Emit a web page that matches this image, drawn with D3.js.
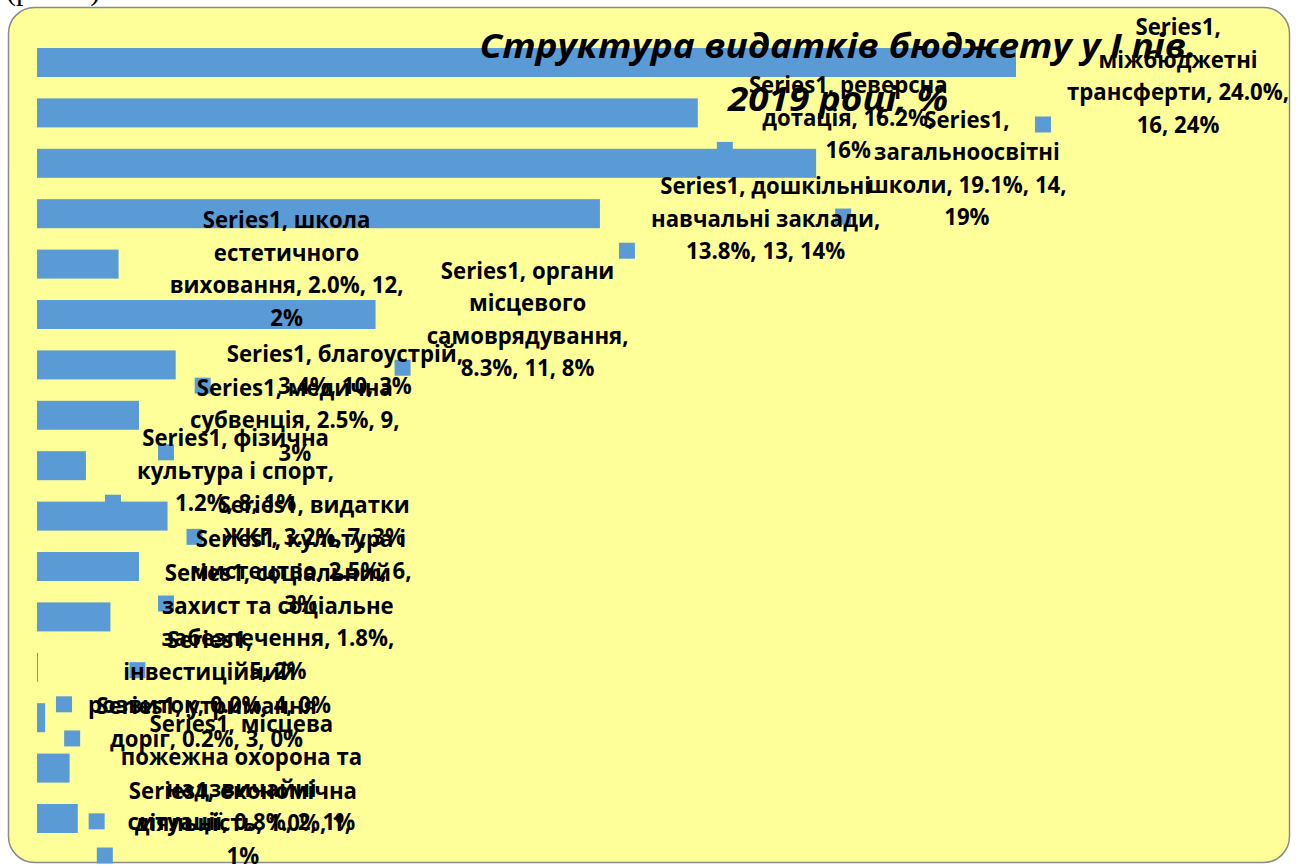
<!DOCTYPE html>
<html>
<head>
<meta charset="utf-8">
<script src="https://cdn.jsdelivr.net/npm/d3@7"></script>
<style>
  body { margin: 0; background: #fff; }
  svg { display: block; }
</style>
</head>
<body>
<script>
// categories as they appear, top to bottom
var categories = [
  "міжбюджетні трансферти", "реверсна дотація", "загальноосвітні школи",
  "дошкільні навчальні заклади", "школа естетичного виховання",
  "органи місцевого самоврядування", "благоустрій", "медична субвенція",
  "фізична культура і спорт", "видатки ЖКГ", "культура і мистецтво",
  "соціальний захист та соціальне забезпечення", "інвестиційний розвиток",
  "утримання доріг", "місцева пожежна охорона та надзвичайні ситуації",
  "економічна діяльність"
];
var values = [24.0, 16.2, 19.1, 13.8, 2.0, 8.3, 3.4, 2.5, 1.2, 3.2, 2.5, 1.8, 0.0, 0.2, 0.8, 1.0];

// data label lines (Series name, category, value, index, percent) as wrapped in the picture
var labelLines = [
  ["Series1,", "міжбюджетні", "трансферти, 24.0%,", "16, 24%"],
  ["Series1, реверсна", "дотація, 16.2%,", "16%"],
  ["Series1,", "загальноосвітні", "школи, 19.1%, 14,", "19%"],
  ["Series1, дошкільні", "навчальні заклади,", "13.8%, 13, 14%"],
  ["Series1, школа", "естетичного", "виховання, 2.0%, 12,", "2%"],
  ["Series1, органи", "місцевого", "самоврядування,", "8.3%, 11, 8%"],
  ["Series1, благоустрій,", "3.4%, 10, 3%"],
  ["Series1, медична", "субвенція, 2.5%, 9,", "3%"],
  ["Series1, фізична", "культура і спорт,", "1.2%, 8, 1%"],
  ["Series1, видатки", "ЖКГ, 3.2%, 7, 3%"],
  ["Series1, культура і", "мистецтво, 2.5%, 6,", "3%"],
  ["Series1, соціальний", "захист та соціальне", "забезпечення, 1.8%,", "5, 2%"],
  ["Series1,", "інвестиційний", "розвиток, 0.0%, 4, 0%"],
  ["Series1, утримання", "доріг, 0.2%, 3, 0%"],
  ["Series1, місцева", "пожежна охорона та", "надзвичайні", "ситуації, 0.8%, 2, 1%"],
  ["Series1, економічна", "діяльність, 1.0%, 1,", "1%"]
];

var titleLines = ["Структура видатків бюджету у І пів.", "2019 році, %"];

var width = 1296, height = 865;
var barCol = "#5B9BD5", bgCol = "#FFFF99";

var svg = d3.select("body").append("svg")
  .attr("width", width)
  .attr("height", height);

// caption text cut off above the chart
svg.append("text")
  .attr("x", 6).attr("y", 0)
  .style("font-family", "'Liberation Serif', serif")
  .style("font-size", "30px")
  .text("(рис. 3).");

// chart area
svg.append("rect")
  .attr("x", 8.5).attr("y", 7.5)
  .attr("width", 1281).attr("height", 855)
  .attr("rx", 26).attr("ry", 26)
  .attr("fill", bgCol)
  .attr("stroke", "#8a8a8a")
  .attr("stroke-width", 1.5);

var x = d3.scaleLinear().domain([0, 24]).range([37, 1016]);
var y = d3.scaleBand().domain(categories)
  .range([26.6, 854.4])
  .paddingInner(0.4246).paddingOuter(0.4246);

var data = categories.map(function(c, i) {
  return { cat: c, v: values[i], lines: labelLines[i] };
});

// text measuring helper
var measure = svg.append("text")
  .style("font-family", "'Open Sans', sans-serif")
  .style("font-weight", 700);
function textW(s, size, italic) {
  measure.style("font-size", size + "px").style("font-style", italic ? "italic" : "normal").text(s);
  return measure.node().getComputedTextLength();
}

var fontSize = 23.5, lineH = 32.5;
// squeeze glyphs horizontally so they take the width of the original narrow font
var kx = 234 / textW("виховання, 2.0%, 12,", fontSize);

data.forEach(function(d) {
  var n = d.lines.length;
  var widths = d.lines.map(function(s) { return textW(s, fontSize) * kx; });
  d.boxW = d3.max(widths);
  d.left = x(d.v) + 51;
  var cy = y(d.cat) + y.bandwidth() / 2 + 4.5;
  var first = Math.max(27, cy - (n - 1) / 2 * lineH);
  d.lineY = d.lines.map(function(s, j) { return first + j * lineH; });
});

var tSize = 34;
var tk = 717 / textW(titleLines[0], tSize, true);
measure.remove();

// legend keys of the labels (sit under the bars)
svg.append("g").selectAll("rect")
  .data(data)
  .join("rect")
  .attr("x", function(d) { return x(d.v) + 19; })
  .attr("y", function(d) { return d.lineY[d.lineY.length - 1] - 8; })
  .attr("width", 16).attr("height", 16)
  .attr("fill", barCol);

// bars
svg.append("g").selectAll("rect")
  .data(data)
  .join("rect")
  .attr("x", x(0))
  .attr("y", function(d) { return y(d.cat); })
  .attr("width", function(d) { return Math.max(1, x(d.v) - x(0)); })
  .attr("height", y.bandwidth())
  .attr("fill", barCol);

// title
svg.append("g").selectAll("text")
  .data(titleLines)
  .join("text")
  .attr("transform", function(d, i) { return "translate(838," + (58 + i * 53) + ") scale(" + tk + ",1)"; })
  .attr("text-anchor", "middle")
  .style("font-family", "'Open Sans', sans-serif")
  .style("font-weight", 700)
  .style("font-style", "italic")
  .style("font-size", tSize + "px")
  .attr("fill", "#000")
  .text(function(d) { return d; });

// data labels
var labels = svg.append("g").selectAll("g")
  .data(data)
  .join("g");

labels.selectAll("text")
  .data(function(d) {
    return d.lines.map(function(s, j) { return { s: s, cx: d.left + d.boxW / 2, cy: d.lineY[j] }; });
  })
  .join("text")
  .attr("transform", function(t) { return "translate(" + t.cx + "," + t.cy + ") scale(" + kx + ",1)"; })
  .attr("dy", "0.36em")
  .attr("text-anchor", "middle")
  .style("font-family", "'Open Sans', sans-serif")
  .style("font-weight", 700)
  .style("font-size", fontSize + "px")
  .attr("fill", "#000")
  .text(function(t) { return t.s; });
</script>
</body>
</html>
